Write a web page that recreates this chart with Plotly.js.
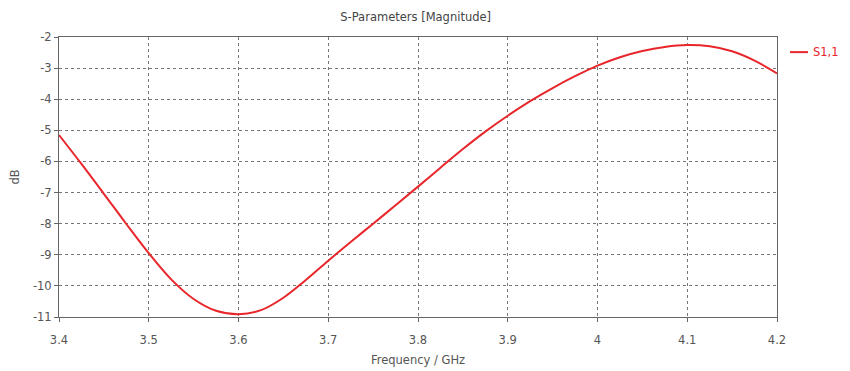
<!DOCTYPE html>
<html>
<head>
<meta charset="utf-8">
<script src="https://cdn.plot.ly/plotly-3.0.1.min.js"></script>
<style>html,body{margin:0;padding:0;background:#fff;}</style>
</head>
<body>
<div id="chart" style="width:850px;height:371px;"></div>
<script>
const freq = [3.400, 3.425, 3.450, 3.475, 3.500, 3.525, 3.550, 3.575, 3.600, 3.625, 3.650, 3.675, 3.700, 3.725, 3.750, 3.775, 3.800, 3.825, 3.850, 3.875, 3.900, 3.925, 3.950, 3.975, 4.000, 4.025, 4.050, 4.075, 4.100, 4.125, 4.150, 4.175, 4.200];
const s11 = [-5.15, -6.08, -7.04, -8.01, -8.95, -9.79, -10.42, -10.80, -10.91, -10.78, -10.38, -9.81, -9.19, -8.59, -8.00, -7.41, -6.81, -6.20, -5.60, -5.04, -4.53, -4.06, -3.64, -3.26, -2.92, -2.65, -2.45, -2.32, -2.26, -2.30, -2.46, -2.76, -3.17];
const xTicks = [3.4, 3.5, 3.6, 3.7, 3.8, 3.9, 4, 4.1, 4.2];
const yTicks = [-2, -3, -4, -5, -6, -7, -8, -9, -10, -11];
const seriesName = 'S1,1';

const font = "'DejaVu Sans', sans-serif";
const fs = 11.5;
const red = '#e8262b';

const trace = {
  x: freq, y: s11, type: 'scatter', mode: 'lines', name: seriesName,
  line: {color: red, width: 2, shape: 'spline', smoothing: 1},
  showlegend: false
};

const layout = {
  width: 850, height: 371,
  margin: {l: 59, r: 73, t: 37, b: 54},
  paper_bgcolor: '#fff', plot_bgcolor: '#fff',
  font: {family: font, size: fs, color: '#555'},
  title: {text: 'S-Parameters [Magnitude]', font: {family: font, size: fs, color: '#444'}, x: 0.489, xanchor: 'center', y: 0.955, yanchor: 'middle'},
  xaxis: {
    range: [3.4, 4.2], tickvals: xTicks, ticktext: xTicks.map(String),
    showgrid: true, gridcolor: '#777', griddash: 'dot', gridwidth: 1,
    showline: true, linecolor: '#666', linewidth: 1, mirror: true,
    ticks: 'outside', ticklen: 4, tickcolor: '#666',
    ticklabelstandoff: 8,
    zeroline: false,
    title: {text: 'Frequency / GHz', font: {family: font, size: fs, color: '#555'}, standoff: 10},
    tickfont: {family: font, size: fs, color: '#555'}
  },
  yaxis: {
    range: [-11, -2], tickvals: yTicks, ticktext: yTicks.map(String),
    showgrid: true, gridcolor: '#777', griddash: 'dot', gridwidth: 1,
    showline: true, linecolor: '#666', linewidth: 1, mirror: true,
    ticks: 'outside', ticklen: 4, tickcolor: '#666',
    zeroline: false,
    title: {text: 'dB', font: {family: font, size: fs, color: '#555'}, standoff: 10},
    tickfont: {family: font, size: fs, color: '#555'}
  },
  showlegend: false,
  shapes: [
    {type: 'line', xref: 'paper', yref: 'paper', x0: (790 - 59) / 718, x1: (808 - 59) / 718, y0: 0.946, y1: 0.946, line: {color: red, width: 2}}
  ],
  annotations: [
    {text: seriesName, xref: 'paper', yref: 'paper', x: (811 - 59) / 718, y: 0.946, xanchor: 'left', yanchor: 'middle', showarrow: false, font: {family: font, size: fs, color: red}}
  ]
};

Plotly.newPlot('chart', [trace], layout, {displayModeBar: false, staticPlot: true});
</script>
</body>
</html>
